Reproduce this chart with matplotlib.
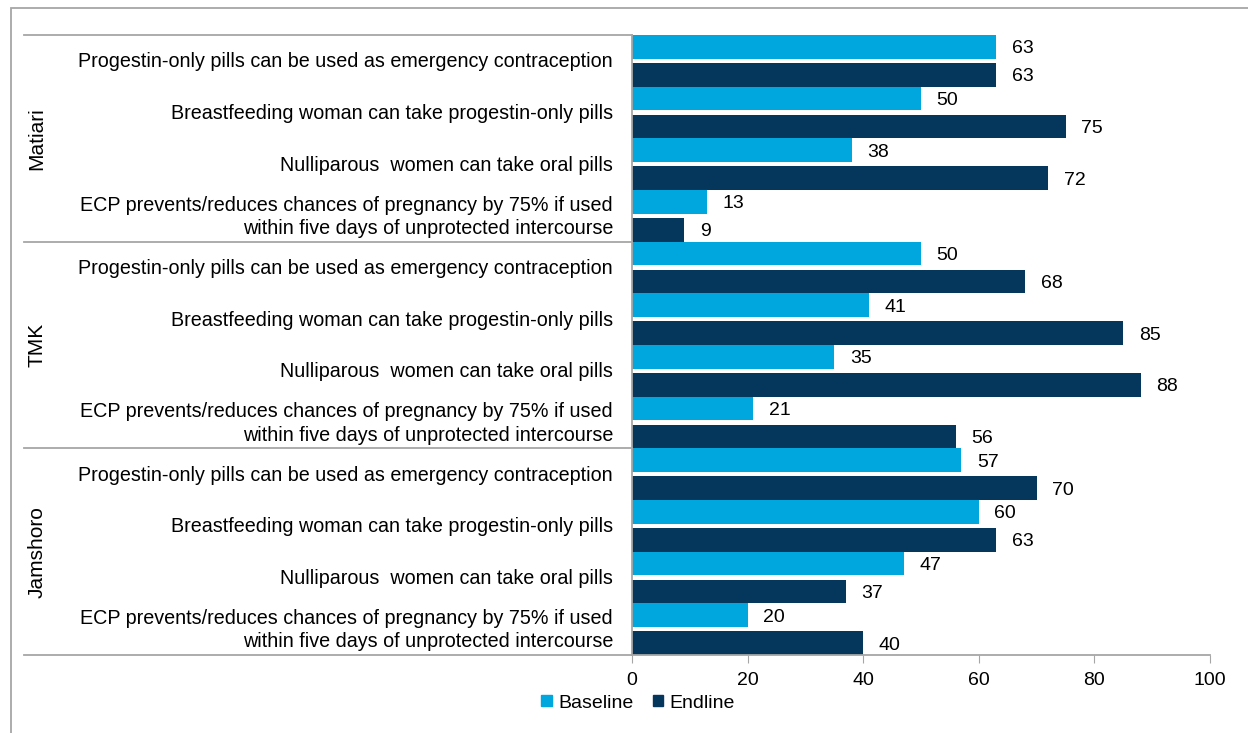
import matplotlib
matplotlib.use("Agg")
import matplotlib.pyplot as plt
from matplotlib.patches import Rectangle, Patch

plt.rcParams['font.family'] = ['Liberation Sans', 'DejaVu Sans']

districts = ["Matiari", "TMK", "Jamshoro"]
statements = [
    "Progestin-only pills can be used as emergency contraception",
    "Breastfeeding woman can take progestin-only pills",
    "Nulliparous  women can take oral pills",
    "ECP prevents/reduces chances of pregnancy by 75% if used\nwithin five days of unprotected intercourse",
]
baseline = [63, 50, 38, 13,
            50, 41, 35, 21,
            57, 60, 47, 20]
endline = [63, 75, 72, 9,
           68, 85, 88, 56,
           70, 63, 37, 40]

light = "#00A6DE"
dark = "#05375D"
grey = "#A6A6A6"
W, H = 1248, 733

fig = plt.figure(figsize=(W / 100, H / 100), dpi=100)
ax = fig.add_axes([632 / W, 1 - 655 / H, (1210 - 632) / W, (655 - 35) / H])

n = len(baseline)
h = 0.46
ypos = list(range(n))
ax.barh([y + 0.23 for y in ypos], baseline, height=h, color=light, label="Baseline")
ax.barh([y + 0.77 for y in ypos], endline, height=h, color=dark, label="Endline")

for i in range(n):
    ax.text(baseline[i] + 2.7, i + 0.23, str(baseline[i]), va="center_baseline", ha="left",
            fontsize=14)
    ax.text(endline[i] + 2.7, i + 0.77, str(endline[i]), va="center_baseline", ha="left",
            fontsize=14)

ax.set_ylim(n, 0)
ax.set_xlim(0, 100)
ax.set_xticks(range(0, 101, 20))
ax.set_yticks([])
ax.tick_params(axis="x", length=6, color=grey, labelsize=14, pad=6)
for s in ["top", "right"]:
    ax.spines[s].set_visible(False)
for s in ["left", "bottom"]:
    ax.spines[s].set_color(grey)
    ax.spines[s].set_linewidth(1.3)

# category labels and group separators
tr = ax.get_yaxis_transform()
for i in range(n):
    ax.text(-0.033, i + 0.52, statements[i % 4], transform=tr, ha="right", va="center",
            fontsize=14.2, linespacing=1.3)
for g in range(len(districts) + 1):
    ax.plot([-1.052, 0], [g * 4, g * 4], transform=tr, color=grey, lw=1.3, clip_on=False)
for g, name in enumerate(districts):
    ax.text(-1.029, g * 4 + 2, name, transform=tr, rotation=90, ha="center", va="center",
            fontsize=15)

fig.patches.append(Rectangle((11 / W, -0.1), 1.2, 1 - 8 / H + 0.1, transform=fig.transFigure,
                             fill=False, edgecolor=grey, lw=1.3))

handles = [Patch(color=light, label="Baseline"), Patch(color=dark, label="Endline")]
fig.legend(handles=handles, loc="center", bbox_to_anchor=(638 / W, 1 - 703 / H), ncol=2,
           frameon=False, fontsize=14, handlelength=0.55, handleheight=0.55,
           handletextpad=0.3, columnspacing=1.0)

fig.savefig("out.png", dpi=100)
